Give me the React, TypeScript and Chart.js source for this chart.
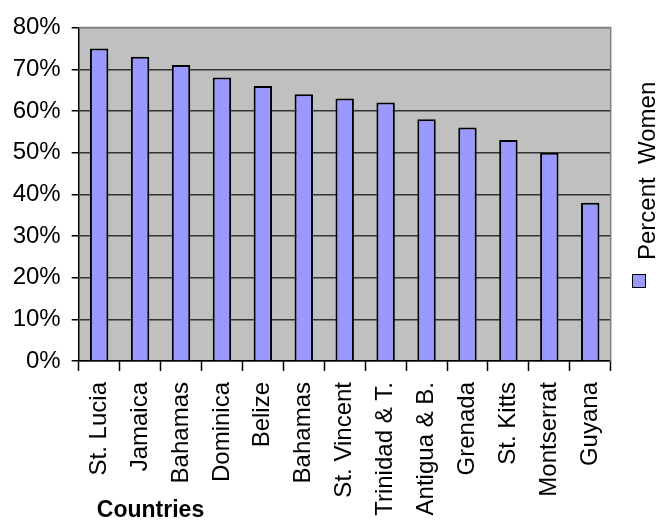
import React, { useEffect, useRef } from "react";
import { Chart, registerables } from "chart.js";

Chart.register(...registerables);

const categories = [
  "St. Lucia",
  "Jamaica",
  "Bahamas",
  "Dominica",
  "Belize",
  "Bahamas",
  "St. Vincent",
  "Trinidad & T.",
  "Antigua & B.",
  "Grenada",
  "St. Kitts",
  "Montserrat",
  "Guyana",
];
const percentWomen = [75, 73, 71, 68, 66, 64, 63, 62, 58, 56, 53, 50, 38];
const seriesName = "Percent  Women";
const xAxisTitle = "Countries";
const yMin = 0;
const yMax = 80;
const yStep = 10;

const FONT = "'Liberation Sans', Arial, sans-serif";
const BAR_FILL = "#9999FF";

const decorPlugin = {
  id: "decor",
  beforeDraw(chart: any) {
    const { ctx, chartArea } = chart;
    ctx.save();
    ctx.fillStyle = "#C0C0C0";
    ctx.fillRect(chartArea.left, chartArea.top, chartArea.right - chartArea.left, chartArea.bottom - chartArea.top);
    ctx.restore();
  },
  afterDraw(chart: any) {
    const { ctx, chartArea } = chart;
    ctx.save();
    // top & right plot border
    ctx.strokeStyle = "#808080";
    ctx.lineWidth = 1.5;
    ctx.beginPath();
    ctx.moveTo(chartArea.left, chartArea.top);
    ctx.lineTo(chartArea.right, chartArea.top);
    ctx.lineTo(chartArea.right, chartArea.bottom);
    ctx.stroke();

    // x-axis title
    ctx.fillStyle = "#000";
    ctx.font = `bold 23px ${FONT}`;
    ctx.textAlign = "center";
    ctx.textBaseline = "alphabetic";
    ctx.fillText(xAxisTitle, 150.5, 517);

    // rotated legend
    ctx.fillStyle = BAR_FILL;
    ctx.fillRect(632, 274, 14, 14);
    ctx.strokeStyle = "#000";
    ctx.lineWidth = 1;
    ctx.strokeRect(632.5, 274.5, 13, 13);
    ctx.translate(655, 260);
    ctx.rotate(-Math.PI / 2);
    ctx.fillStyle = "#000";
    ctx.font = `24px ${FONT}`;
    ctx.textAlign = "left";
    ctx.textBaseline = "alphabetic";
    ctx.fillText(seriesName, 0, 0);
    ctx.restore();
  },
};

export default function App() {
  const canvasRef = useRef<HTMLCanvasElement | null>(null);

  useEffect(() => {
    if (!canvasRef.current) return;
    const chart = new Chart(canvasRef.current, {
      type: "bar",
      data: {
        labels: categories,
        datasets: [
          {
            label: seriesName,
            data: percentWomen,
            backgroundColor: BAR_FILL,
            borderColor: "#000000",
            borderWidth: 2,
            barPercentage: 0.45,
            categoryPercentage: 1,
          },
        ],
      },
      options: {
        animation: false,
        responsive: true,
        maintainAspectRatio: false,
        layout: { padding: { left: 0, top: 27.6, right: 45.3, bottom: 0 } },
        plugins: {
          legend: { display: false },
          tooltip: { enabled: false },
          title: { display: false },
        },
        scales: {
          x: {
            type: "category",
            offset: true,
            grid: {
              offset: true,
              drawOnChartArea: false,
              drawTicks: true,
              tickLength: 10,
              tickColor: "#000",
              tickWidth: 1.5,
            },
            border: { display: true, color: "#000", width: 1.5 },
            ticks: {
              autoSkip: false,
              minRotation: 90,
              maxRotation: 90,
              padding: 11,
              color: "#000",
              font: { family: FONT, size: 24 },
            },
            afterFit(scale: any) {
              scale.height = 159;
            },
          },
          y: {
            min: yMin,
            max: yMax,
            grid: {
              color: (c: any) => (c.tick && c.tick.value === yMax ? "#808080" : "#333333"),
              lineWidth: 1.5,
              drawTicks: true,
              tickLength: 7,
              tickColor: "#000",
              tickWidth: 1.5,
            },
            border: { display: true, color: "#000", width: 1.5 },
            ticks: {
              stepSize: yStep,
              padding: 11,
              color: "#000",
              font: { family: FONT, size: 24 },
              callback: (v: any) => `${v}%`,
            },
            afterFit(scale: any) {
              scale.width = 78.7;
            },
          },
        },
      },
      plugins: [decorPlugin],
    });
    return () => chart.destroy();
  }, []);

  return (
    <div style={{ position: "fixed", left: 0, top: 0, width: 656, height: 520, background: "#fff" }}>
      <canvas ref={canvasRef} />
    </div>
  );
}
